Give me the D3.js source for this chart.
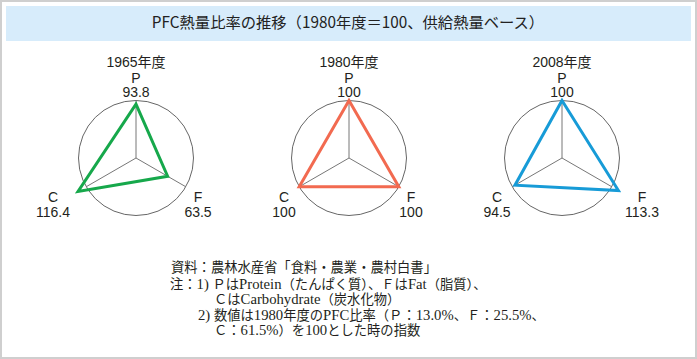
<!DOCTYPE html>
<html><head><meta charset="utf-8">
<script src="https://cdn.jsdelivr.net/npm/d3@7/dist/d3.min.js"></script>
<style>body{margin:0;background:#fff}svg{display:block}</style>
</head><body>
<svg id="c" width="697" height="359"></svg>
<script>
const title = "PFC熱量比率の推移（1980年度＝100、供給熱量ベース）";
const years = ["1965年度", "1980年度", "2008年度"];
const axesLabels = ["P", "F", "C"];
const valuesP = [93.8, 100, 100];
const valuesF = [63.5, 100, 113.3];
const valuesC = [116.4, 100, 94.5];
const valueText = [["93.8","63.5","116.4"],["100","100","100"],["100","113.3","94.5"]];
const colors = ["#16a84b", "#f26a50", "#179bd7"];
const notes = [
  "資料：農林水産省「食料・農業・農村白書」",
  "注：1) ＰはProtein（たんぱく質）、ＦはFat（脂質）、",
  "ＣはCarbohydrate（炭水化物）",
  "2) 数値は1980年度のPFC比率（Ｐ：13.0%、Ｆ：25.5%、",
  "Ｃ：61.5%）を100とした時の指数"
];

const svg = d3.select("#c");
svg.append("rect").attr("x",1).attr("y",1).attr("width",695).attr("height",357)
  .attr("fill","#fff").attr("stroke","#cfcfcf").attr("stroke-width",2);
svg.append("rect").attr("x",6).attr("y",6).attr("width",685).attr("height",35).attr("fill","#d7ecfb");
svg.append("text").attr("x",348).attr("y",28).attr("text-anchor","middle")
  .attr("font-family","'Noto Sans CJK JP', sans-serif").attr("font-size",15.3).attr("fill","#222").text(title);

const cx = d3.scalePoint().domain(years).range([136, 562]);
const cy = 158;
const r = d3.scaleLinear().domain([0,100]).range([0,57.5]);
const ang = d3.scalePoint().domain(axesLabels).range([0, 4*Math.PI/3]);
const font = "'Liberation Sans', Arial, 'Noto Sans CJK JP', sans-serif";

years.forEach((y, i) => {
  const g = svg.append("g").attr("transform", `translate(${cx(y)},${cy})`);
  g.append("circle").attr("r", r(100)).attr("fill","none").attr("stroke","#666").attr("stroke-width",1);
  axesLabels.forEach(a => {
    const t = ang(a);
    g.append("line").attr("x1",0).attr("y1",0)
      .attr("x2", r(100)*Math.sin(t)).attr("y2", -r(100)*Math.cos(t))
      .attr("stroke","#777").attr("stroke-width",1);
  });
  const vals = [valuesP[i], valuesF[i], valuesC[i]];
  const line = d3.lineRadial().angle((d,k)=>ang(axesLabels[k])).radius(d=>r(d)).curve(d3.curveLinearClosed);
  g.append("path").attr("d", line(vals)).attr("fill","none").attr("stroke",colors[i])
    .attr("stroke-width",3).attr("stroke-linejoin","miter");
  const tx = (s, x, yy, fs) => g.append("text").attr("x",x).attr("y",yy).attr("text-anchor","middle")
    .attr("font-family",font).attr("font-size",fs||14).attr("fill","#231f20").text(s);
  tx(y, 0, -91.5, 14);
  tx("P", 0, -75.5);
  tx(valueText[i][0], 0, -61);
  const offF = 62 + (vals[1] > 100 ? 18 : 0);
  const offC = 65 + (vals[2] > 100 ? 18 : 0);
  tx("F", offF, 44); tx(valueText[i][1], offF, 59);
  tx("C", -offC, 44); tx(valueText[i][2], -offC, 59);
});

const nf = "'Noto Sans CJK JP', sans-serif";
const lf = "'Liberation Serif', serif";
const nx = [171, 170, 214, 198, 214];
const ny = [272, 289, 304, 320, 335];
notes.forEach((s,k) => {
  const t = svg.append("text").attr("x",nx[k]).attr("y",ny[k]).attr("font-family",nf)
    .attr("font-size",13.3).attr("fill","#231f20");
  const parts = s.match(/[\x20-\x7E]+|[^\x20-\x7E]+/g);
  parts.forEach(p => {
    const isLatin = /^[\x20-\x7E]+$/.test(p);
    const sp = t.append("tspan").text(p);
    if (isLatin) sp.attr("font-family", lf).attr("font-size", 14.7);
  });
});
</script>
</body></html>
